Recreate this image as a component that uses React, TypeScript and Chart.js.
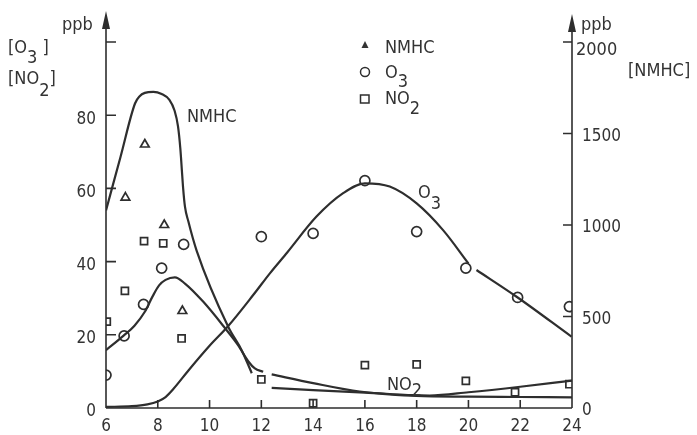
import React, { useEffect, useRef } from "react";
import { Chart, registerables } from "chart.js";
Chart.register(...registerables);

// ---- tick labels ----
const hourTicks = [6, 8, 10, 12, 14, 16, 18, 20, 22, 24];
const ppbTicks = [0, 20, 40, 60, 80, 100];
const nmhcTicks = [0, 500, 1000, 1500, 2000];

// ---- observations ----
const nmhcObsHour = [6.75, 7.5, 8.25, 8.95];
const nmhcObs = [1150, 1440, 1000, 530];

const o3ObsHour = [6.0, 6.7, 7.45, 8.15, 9.0, 12.0, 14.0, 16.0, 18.0, 19.9, 21.9, 23.9];
const o3Obs = [9, 19.7, 28.3, 38.2, 44.7, 46.8, 47.7, 62.1, 48.2, 38.2, 30.2, 27.7];

const no2ObsHour = [6.03, 6.73, 7.47, 8.21, 8.92, 12.0, 14.0, 16.0, 18.0, 19.9, 21.8, 23.9];
const no2Obs = [23.6, 32, 45.6, 45, 19, 7.8, 1.3, 11.7, 11.9, 7.4, 4.3, 6.5];

// ---- fitted curves ----
const nmhcCurveAHour = [6, 6.56, 7.12, 7.3, 7.5, 7.83, 8.15, 8.45, 8.65, 8.78, 8.87, 8.93, 8.98, 9.05, 9.18, 9.5, 10.72, 11.24, 11.45, 11.63];
const nmhcCurveA = [1080, 1372, 1664, 1704, 1722, 1728, 1716, 1684, 1624, 1540, 1420, 1300, 1200, 1100, 1020, 860, 444, 316, 250, 190];
const nmhcCurveBHour = [12.4, 14, 16, 18, 20, 22, 24];
const nmhcCurveB = [110, 98, 84, 66, 62, 60, 58];

const no2CurveAHour = [6, 6.67, 7.1, 7.5, 7.8, 8.05, 8.3, 8.66, 9.05, 9.76, 10.6, 11.1, 11.5, 11.75, 12.07];
const no2CurveA = [15.8, 19.7, 22.5, 26.3, 30.5, 33.5, 35, 35.7, 34, 29, 21.8, 17.2, 12.7, 10.8, 9.9];
const no2CurveBHour = [12.4, 14, 15.8, 17.85, 18.5, 20, 22, 24];
const no2CurveB = [9.2, 6.8, 4.5, 3.5, 3.4, 4.3, 5.8, 7.5];

const o3CurveAHour = [6, 7, 7.6, 8.0, 8.3, 8.6, 9.2, 10.0, 10.72, 11.7, 12.33, 13.0, 14.13, 15.16, 16, 16.96, 18, 19.02, 20];
const o3CurveA = [0.3, 0.5, 1.0, 1.8, 3.0, 5.2, 10.4, 17.0, 22.4, 31, 36.8, 42.5, 52.3, 58.7, 61.4, 60.5, 55.9, 48.6, 39.5];
const o3CurveBHour = [20.31, 21.86, 23.98];
const o3CurveB = [37.7, 30.4, 19.5];

const INK = "#2e2e2e";
const TEXT = "#333333";
const FONT = '"DejaVu Sans Condensed", "Liberation Sans Narrow", "DejaVu Sans", sans-serif';

const pts = (xs: number[], ys: number[]) => xs.map((x, i) => ({ x, y: ys[i] }));

function curve(xs: number[], ys: number[], axis: string) {
  return {
    type: "line" as const,
    data: pts(xs, ys),
    yAxisID: axis,
    borderColor: INK,
    borderWidth: 2.2,
    pointRadius: 0,
    fill: false,
    cubicInterpolationMode: "monotone" as const,
    showLine: true,
  };
}

function marks(xs: number[], ys: number[], axis: string, style: string, r: number) {
  return {
    type: "scatter" as const,
    data: pts(xs, ys),
    yAxisID: axis,
    pointStyle: style,
    pointRadius: r,
    pointBorderColor: INK,
    pointBackgroundColor: "rgba(255,255,255,0)",
    pointBorderWidth: 1.7,
    showLine: false,
  };
}

function drawSub(ctx: CanvasRenderingContext2D, parts: [string, number][], x: number, y: number) {
  let cx = x;
  for (const [t, dy] of parts) {
    ctx.fillText(t, cx, y + dy);
    cx += ctx.measureText(t).width;
  }
}

const decorPlugin = {
  id: "decor",
  afterDraw(chart: any) {
    const { ctx, chartArea: a, scales } = chart;
    const xs = scales.x, ys = scales.y, y1 = scales.y1;
    ctx.save();
    ctx.strokeStyle = INK;
    ctx.fillStyle = INK;
    ctx.lineWidth = 1.6;
    ctx.beginPath();
    ctx.moveTo(a.left, a.bottom);
    ctx.lineTo(a.right, a.bottom);
    ctx.moveTo(a.left, a.bottom);
    ctx.lineTo(a.left, a.top - 16);
    ctx.moveTo(a.right, a.bottom);
    ctx.lineTo(a.right, a.top - 12);
    for (const h of hourTicks) {
      if (h === hourTicks[0] || h === hourTicks[hourTicks.length - 1]) continue;
      const px = xs.getPixelForValue(h);
      ctx.moveTo(px, a.bottom);
      ctx.lineTo(px, a.bottom - 8);
    }
    for (const v of ppbTicks) {
      if (v === 0) continue;
      const py = ys.getPixelForValue(v);
      ctx.moveTo(a.left, py);
      ctx.lineTo(a.left + 10, py);
    }
    for (const v of nmhcTicks) {
      if (v === 0) continue;
      const py = y1.getPixelForValue(v);
      ctx.moveTo(a.right - 9, py);
      ctx.lineTo(a.right, py);
    }
    ctx.stroke();
    // arrows
    ctx.beginPath();
    ctx.moveTo(a.left, a.top - 31);
    ctx.lineTo(a.left - 4, a.top - 13);
    ctx.lineTo(a.left + 4, a.top - 13);
    ctx.closePath();
    ctx.moveTo(a.right, a.top - 28);
    ctx.lineTo(a.right - 4, a.top - 10);
    ctx.lineTo(a.right + 4, a.top - 10);
    ctx.closePath();
    ctx.fill();

    // texts
    ctx.fillStyle = TEXT;
    ctx.textBaseline = "alphabetic";
    ctx.textAlign = "left";
    ctx.font = `18px ${FONT}`;
    ctx.fillText("ppb", 62, 30);
    ctx.fillText("ppb", 581, 30);
    drawSub(ctx, [["[O", 0], ["3", 10], [" ]", 0]], 8, 53);
    drawSub(ctx, [["[NO", 0], ["2", 12], ["]", 0]], 8, 84);
    ctx.fillText("[NMHC]", 628, 76);
    ctx.fillText("2000", 576, 55);
    // legend
    ctx.fillText("NMHC", 385, 53);
    drawSub(ctx, [["O", 0], ["3", 9]], 385, 78);
    drawSub(ctx, [["NO", 0], ["2", 10]], 385, 104);
    // legend symbols
    ctx.strokeStyle = INK;
    ctx.lineWidth = 1.5;
    ctx.beginPath();
    ctx.moveTo(365, 41);
    ctx.lineTo(361.5, 48);
    ctx.lineTo(368.5, 48);
    ctx.closePath();
    ctx.fill();
    ctx.beginPath();
    ctx.arc(365, 72, 4.5, 0, Math.PI * 2);
    ctx.stroke();
    ctx.strokeRect(360.5, 95, 8.5, 8);
    // curve labels
    ctx.fillText("NMHC", 187, 122);
    drawSub(ctx, [["O", 0], ["3", 11]], 418, 198);
    drawSub(ctx, [["NO", 0], ["2", 6]], 387, 390);
    ctx.restore();
  },
};

export default function App() {
  const ref = useRef<HTMLCanvasElement | null>(null);
  useEffect(() => {
    document.body.style.margin = "0";
    document.body.style.background = "#fff";
    if (!ref.current) return;
    const tickFont = { family: FONT, size: 17 };
    const chart = new Chart(ref.current, {
      type: "scatter",
      data: {
        datasets: [
          curve(nmhcCurveAHour, nmhcCurveA, "y1"),
          curve(nmhcCurveBHour, nmhcCurveB, "y1"),
          curve(no2CurveAHour, no2CurveA, "y"),
          curve(no2CurveBHour, no2CurveB, "y"),
          curve(o3CurveAHour, o3CurveA, "y"),
          curve(o3CurveBHour, o3CurveB, "y"),
          marks(nmhcObsHour, nmhcObs, "y1", "triangle", 5),
          marks(o3ObsHour, o3Obs, "y", "circle", 5),
          marks(no2ObsHour, no2Obs, "y", "rect", 5),
        ] as any,
      },
      options: {
        animation: false,
        responsive: false,
        layout: { padding: { top: 42, left: 0, right: 0, bottom: 0 } },
        plugins: { legend: { display: false }, tooltip: { enabled: false } },
        scales: {
          x: {
            type: "linear",
            min: 6,
            max: 24,
            afterBuildTicks: (s: any) => { s.ticks = hourTicks.map((v) => ({ value: v })); },
            ticks: { font: tickFont, color: TEXT, padding: 8, maxRotation: 0, autoSkip: false },
            grid: { display: false, drawTicks: false },
            border: { display: false },
            afterFit: (s: any) => { s.height = 27; },
          },
          y: {
            type: "linear",
            position: "left",
            min: 0,
            max: 100,
            afterBuildTicks: (s: any) => { s.ticks = ppbTicks.map((v) => ({ value: v })); },
            ticks: {
              font: tickFont, color: TEXT, padding: 10, labelOffset: 4,
              callback: (v: any) => (v === 100 ? "" : String(v)),
            },
            grid: { display: false, drawTicks: false },
            border: { display: false },
            afterFit: (s: any) => { s.width = 106; },
          },
          y1: {
            type: "linear",
            position: "right",
            min: 0,
            max: 2000,
            afterBuildTicks: (s: any) => { s.ticks = nmhcTicks.map((v) => ({ value: v })); },
            ticks: {
              font: tickFont, color: TEXT, padding: 10, labelOffset: 3,
              callback: (v: any) => (v === 2000 ? "" : String(v)),
            },
            grid: { display: false, drawTicks: false },
            border: { display: false },
            afterFit: (s: any) => { s.width = 125; },
          },
        },
      },
      plugins: [decorPlugin],
    });
    return () => chart.destroy();
  }, []);
  return <canvas ref={ref} width={697} height={435} style={{ display: "block" }} />;
}
